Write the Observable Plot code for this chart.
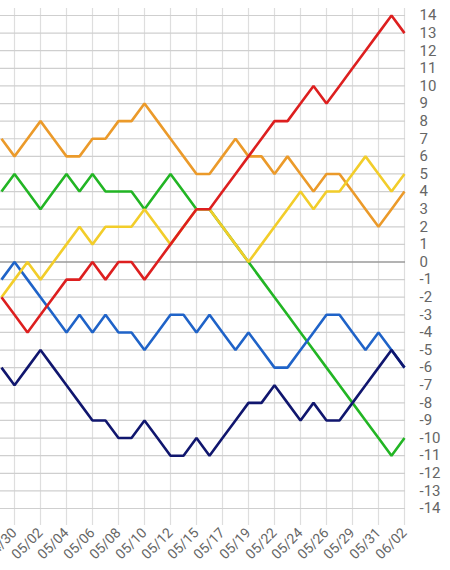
<!DOCTYPE html>
<html>
<head>
<meta charset="utf-8">
<script src="https://cdn.jsdelivr.net/npm/d3@7"></script>
<script src="https://cdn.jsdelivr.net/npm/@observablehq/plot@0.6"></script>
<style>
  html, body { margin: 0; padding: 0; background: #fff; }
  #chart svg { display: block; font-family: Roboto, "Noto Sans", sans-serif; }
</style>
</head>
<body>
<div id="chart"></div>
<script>
// game dates (x categories)
const dates = ["04/29","04/30","05/01","05/02","05/03","05/04","05/05","05/06","05/07","05/08","05/09","05/10","05/11","05/12","05/14","05/15","05/16","05/17","05/18","05/19","05/21","05/22","05/23","05/24","05/25","05/26","05/28","05/29","05/30","05/31","06/01","06/02"];
// labelled dates on the x axis
const tickLabels = ["04/30","05/02","05/04","05/06","05/08","05/10","05/12","05/15","05/17","05/19","05/22","05/24","05/26","05/29","05/31","06/02"];
// y ticks
const yTicks = d3.range(-14, 15);

// series values (games above/below .500)
const green  = [4,5,4,3,4,5,4,5,4,4,4,3,4,5,4,3,3,2,1,0,-1,-2,-3,-4,-5,-6,-7,-8,-9,-10,-11,-10];
const blue   = [-1,0,-1,-2,-3,-4,-3,-4,-3,-4,-4,-5,-4,-3,-3,-4,-3,-4,-5,-4,-5,-6,-6,-5,-4,-3,-3,-4,-5,-4,-5,-6];
const navy   = [-6,-7,-6,-5,-6,-7,-8,-9,-9,-10,-10,-9,-10,-11,-11,-10,-11,-10,-9,-8,-8,-7,-8,-9,-8,-9,-9,-8,-7,-6,-5,-6];
const orange = [7,6,7,8,7,6,6,7,7,8,8,9,8,7,6,5,5,6,7,6,6,5,6,5,4,5,5,4,3,2,3,4];
const yellow = [-2,-1,0,-1,0,1,2,1,2,2,2,3,2,1,2,3,3,2,1,0,1,2,3,4,3,4,4,5,6,5,4,5];
const red    = [-2,-3,-4,-3,-2,-1,-1,0,-1,0,0,-1,0,1,2,3,3,4,5,6,7,8,8,9,10,9,10,11,12,13,14,13];

const seriesNames  = ["green","blue","navy","orange","yellow","red"];
const seriesValues = [green, blue, navy, orange, yellow, red];
const seriesColors = ["#22b524","#1f63c8","#10166e","#eb9a2a","#f2cd2a","#dd1f1f"];

const lineMarks = seriesNames.map((name, k) =>
  Plot.line(dates.map((d, i) => ({date: d, value: seriesValues[k][i]})), {
    x: "date", y: "value", stroke: seriesColors[k], strokeWidth: 2.6,
    strokeLinejoin: "miter", strokeLinecap: "butt"
  })
);

const chart = Plot.plot({
  width: 450,
  height: 570,
  marginLeft: 0,
  marginRight: 45,
  marginTop: 8,
  marginBottom: 45,
  style: {fontFamily: "Roboto, 'Noto Sans', sans-serif", background: "#fff"},
  x: {type: "point", domain: dates, padding: 0, axis: null},
  y: {domain: [-14, 14], insetTop: 7, insetBottom: 17, axis: null},
  marks: [
    Plot.ruleX(tickLabels, {stroke: "#dedede", strokeWidth: 1.2}),
    Plot.ruleY(yTicks.filter(v => v !== 0), {stroke: "#cfcfcf", strokeWidth: 1.2}),
    Plot.ruleY([0], {stroke: "#9a9a9a", strokeWidth: 1.6}),
    Plot.axisY(yTicks, {anchor: "right", label: null, tickSize: 0, tickPadding: 14, fontSize: 15, fill: "#666",
      tickFormat: d => String(d)}),
    Plot.axisX(tickLabels, {anchor: "bottom", label: null, tickSize: 0, tickPadding: 5, tickRotate: -45, fontSize: 14, fill: "#666"}),
    ...lineMarks
  ]
});
document.getElementById("chart").appendChild(chart);
</script>
</body>
</html>
